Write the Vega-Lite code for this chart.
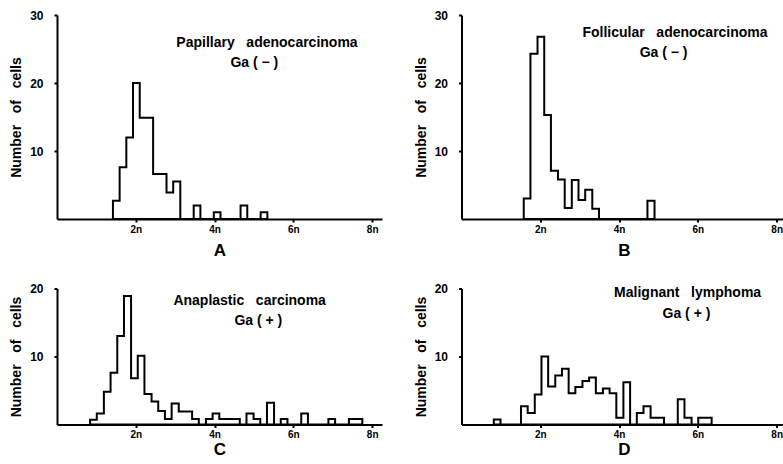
{
  "$schema": "https://vega.github.io/schema/vega-lite/v6.json",
  "padding": {"left": 9, "top": 9, "right": 0, "bottom": 0},
  "background": "white",
  "columns": 2,
  "bounds": "flush",
  "spacing": {"row": 69.5, "column": 79.5},
  "datasets": {
    "A": [
      {"x": 1.42, "c": 2.7}, {"x": 1.59, "c": 7.6}, {"x": 1.76, "c": 12}, {"x": 1.93, "c": 20},
      {"x": 2.10, "c": 14.9}, {"x": 2.27, "c": 14.9}, {"x": 2.44, "c": 6.6}, {"x": 2.61, "c": 6.6},
      {"x": 2.78, "c": 3.9}, {"x": 2.95, "c": 5.5}, {"x": 3.13, "c": 0}, {"x": 3.47, "c": 2},
      {"x": 3.64, "c": 0}, {"x": 3.98, "c": 1}, {"x": 4.15, "c": 0}, {"x": 4.66, "c": 2},
      {"x": 4.83, "c": 0}, {"x": 5.17, "c": 1}, {"x": 5.34, "c": 0}
    ],
    "B": [
      {"x": 1.58, "c": 3}, {"x": 1.75, "c": 24.3}, {"x": 1.93, "c": 26.8}, {"x": 2.10, "c": 15.3},
      {"x": 2.27, "c": 7.1}, {"x": 2.45, "c": 5.8}, {"x": 2.62, "c": 1.6}, {"x": 2.80, "c": 5.75},
      {"x": 2.97, "c": 2.8}, {"x": 3.14, "c": 4.3}, {"x": 3.32, "c": 1.5}, {"x": 3.49, "c": 0},
      {"x": 4.72, "c": 2.7}, {"x": 4.90, "c": 0}
    ],
    "C": [
      {"x": 0.84, "c": 0.7}, {"x": 1.01, "c": 1.6}, {"x": 1.19, "c": 4.8}, {"x": 1.36, "c": 7.6},
      {"x": 1.53, "c": 13}, {"x": 1.70, "c": 18.9}, {"x": 1.88, "c": 6.8}, {"x": 2.05, "c": 10.1},
      {"x": 2.22, "c": 4.5}, {"x": 2.40, "c": 3.4}, {"x": 2.57, "c": 2}, {"x": 2.74, "c": 0.8},
      {"x": 2.91, "c": 3.1}, {"x": 3.09, "c": 1.9}, {"x": 3.26, "c": 1.9}, {"x": 3.43, "c": 0.8},
      {"x": 3.60, "c": 0}, {"x": 3.78, "c": 0.8}, {"x": 3.95, "c": 1.6}, {"x": 4.12, "c": 0.8},
      {"x": 4.30, "c": 0.8}, {"x": 4.47, "c": 0.8}, {"x": 4.64, "c": 0}, {"x": 4.81, "c": 1.6},
      {"x": 4.99, "c": 0.8}, {"x": 5.16, "c": 0}, {"x": 5.33, "c": 3.2}, {"x": 5.51, "c": 0},
      {"x": 5.68, "c": 0.8}, {"x": 5.85, "c": 0}, {"x": 6.20, "c": 1.6}, {"x": 6.37, "c": 0},
      {"x": 6.89, "c": 0.8}, {"x": 7.06, "c": 0}, {"x": 7.41, "c": 0.8}, {"x": 7.58, "c": 0.8},
      {"x": 7.75, "c": 0}
    ],
    "D": [
      {"x": 0.82, "c": 0.75}, {"x": 0.99, "c": 0}, {"x": 1.51, "c": 2.7}, {"x": 1.68, "c": 1.7},
      {"x": 1.86, "c": 4.4}, {"x": 2.03, "c": 10}, {"x": 2.20, "c": 5.6}, {"x": 2.38, "c": 7.2},
      {"x": 2.55, "c": 8.2}, {"x": 2.72, "c": 4.6}, {"x": 2.89, "c": 5.5}, {"x": 3.07, "c": 6.4},
      {"x": 3.24, "c": 6.9}, {"x": 3.41, "c": 4.6}, {"x": 3.59, "c": 5.3}, {"x": 3.76, "c": 4.6},
      {"x": 3.93, "c": 1.0}, {"x": 4.11, "c": 6.2}, {"x": 4.28, "c": 0}, {"x": 4.45, "c": 1.7},
      {"x": 4.62, "c": 2.7}, {"x": 4.80, "c": 1.0}, {"x": 4.97, "c": 1.0}, {"x": 5.14, "c": 0},
      {"x": 5.49, "c": 3.7}, {"x": 5.66, "c": 1.0}, {"x": 5.84, "c": 0}, {"x": 6.01, "c": 1.0},
      {"x": 6.18, "c": 1.0}, {"x": 6.35, "c": 0}
    ]
  },
  "config": {
    "view": {"stroke": null},
    "font": "Liberation Sans",
    "axis": {
      "grid": false, "domainColor": "#000", "domainWidth": 2, "tickColor": "#000", "tickWidth": 2,
      "tickSize": 3, "labelColor": "#000", "labelFontWeight": "bold", "titleColor": "#000",
      "titleFontWeight": "bold", "labelFont": "Liberation Sans", "titleFont": "Liberation Sans"
    },
    "axisX": {"labelFontSize": 10, "labelPadding": 2, "titleFontSize": 17},
    "axisY": {"labelFontSize": 12, "labelPadding": 11, "titleFontSize": 14, "titlePadding": 6},
    "text": {"color": "#000", "fontSize": 14, "fontWeight": "bold", "font": "Liberation Sans"}
  },
  "concat": [
    {
      "width": 325, "height": 204,
      "layer": [
        {
          "data": {"name": "A"},
          "mark": {"type": "area", "interpolate": "step-after", "fill": "white", "stroke": "black", "strokeWidth": 2, "strokeJoin": "miter"},
          "encoding": {
            "x": {"field": "x", "type": "quantitative", "scale": {"domain": [0, 8.25], "nice": false, "zero": false},
                  "axis": {"title": "A", "titlePadding": 8, "values": [2, 4, 6, 8], "labelExpr": "datum.value + 'n'"}},
            "y": {"field": "c", "type": "quantitative", "scale": {"domain": [0, 30], "nice": false},
                  "axis": {"title": "Number\u00a0\u00a0 of\u00a0\u00a0 cells", "values": [10, 20, 30]}}
          }
        },
        {
          "data": {"values": [{"t": "Papillary\u00a0\u00a0 adenocarcinoma"}]},
          "mark": {"type": "text"},
          "encoding": {"x": {"datum": 5.33}, "y": {"datum": 25.9}, "text": {"field": "t"}}
        },
        {
          "data": {"values": [{"t": "Ga ( − )"}]},
          "mark": {"type": "text"},
          "encoding": {"x": {"datum": 5.01}, "y": {"datum": 22.9}, "text": {"field": "t"}}
        }
      ]
    },
    {
      "width": 325, "height": 204,
      "layer": [
        {
          "data": {"name": "B"},
          "mark": {"type": "area", "interpolate": "step-after", "fill": "white", "stroke": "black", "strokeWidth": 2, "strokeJoin": "miter"},
          "encoding": {
            "x": {"field": "x", "type": "quantitative", "scale": {"domain": [0, 8.25], "nice": false, "zero": false},
                  "axis": {"title": "B", "titlePadding": 8, "values": [2, 4, 6, 8], "labelExpr": "datum.value + 'n'"}},
            "y": {"field": "c", "type": "quantitative", "scale": {"domain": [0, 30], "nice": false},
                  "axis": {"title": "Number\u00a0\u00a0 of\u00a0\u00a0 cells", "values": [10, 20, 30]}}
          }
        },
        {
          "data": {"values": [{"t": "Follicular\u00a0\u00a0 adenocarcinoma"}]},
          "mark": {"type": "text"},
          "encoding": {"x": {"datum": 5.42}, "y": {"datum": 27.4}, "text": {"field": "t"}}
        },
        {
          "data": {"values": [{"t": "Ga ( − )"}]},
          "mark": {"type": "text"},
          "encoding": {"x": {"datum": 5.13}, "y": {"datum": 24.4}, "text": {"field": "t"}}
        }
      ]
    },
    {
      "width": 325, "height": 136,
      "layer": [
        {
          "data": {"name": "C"},
          "mark": {"type": "area", "interpolate": "step-after", "fill": "white", "stroke": "black", "strokeWidth": 2, "strokeJoin": "miter"},
          "encoding": {
            "x": {"field": "x", "type": "quantitative", "scale": {"domain": [0, 8.25], "nice": false, "zero": false},
                  "axis": {"title": "C", "titlePadding": 2, "values": [2, 4, 6, 8], "labelExpr": "datum.value + 'n'"}},
            "y": {"field": "c", "type": "quantitative", "scale": {"domain": [0, 20], "nice": false},
                  "axis": {"title": "Number\u00a0\u00a0 of\u00a0\u00a0 cells", "values": [10, 20]}}
          }
        },
        {
          "data": {"values": [{"t": "Anaplastic\u00a0\u00a0 carcinoma"}]},
          "mark": {"type": "text"},
          "encoding": {"x": {"datum": 4.89}, "y": {"datum": 18.2}, "text": {"field": "t"}}
        },
        {
          "data": {"values": [{"t": "Ga ( + )"}]},
          "mark": {"type": "text"},
          "encoding": {"x": {"datum": 5.11}, "y": {"datum": 15.2}, "text": {"field": "t"}}
        }
      ]
    },
    {
      "width": 325, "height": 136,
      "layer": [
        {
          "data": {"name": "D"},
          "mark": {"type": "area", "interpolate": "step-after", "fill": "white", "stroke": "black", "strokeWidth": 2, "strokeJoin": "miter"},
          "encoding": {
            "x": {"field": "x", "type": "quantitative", "scale": {"domain": [0, 8.25], "nice": false, "zero": false},
                  "axis": {"title": "D", "titlePadding": 2, "values": [2, 4, 6, 8], "labelExpr": "datum.value + 'n'"}},
            "y": {"field": "c", "type": "quantitative", "scale": {"domain": [0, 20], "nice": false},
                  "axis": {"title": "Number\u00a0\u00a0 of\u00a0\u00a0 cells", "values": [10, 20]}}
          }
        },
        {
          "data": {"values": [{"t": "Malignant\u00a0\u00a0 lymphoma"}]},
          "mark": {"type": "text"},
          "encoding": {"x": {"datum": 5.74}, "y": {"datum": 19.4}, "text": {"field": "t"}}
        },
        {
          "data": {"values": [{"t": "Ga ( + )"}]},
          "mark": {"type": "text"},
          "encoding": {"x": {"datum": 5.71}, "y": {"datum": 16.2}, "text": {"field": "t"}}
        }
      ]
    }
  ]
}
